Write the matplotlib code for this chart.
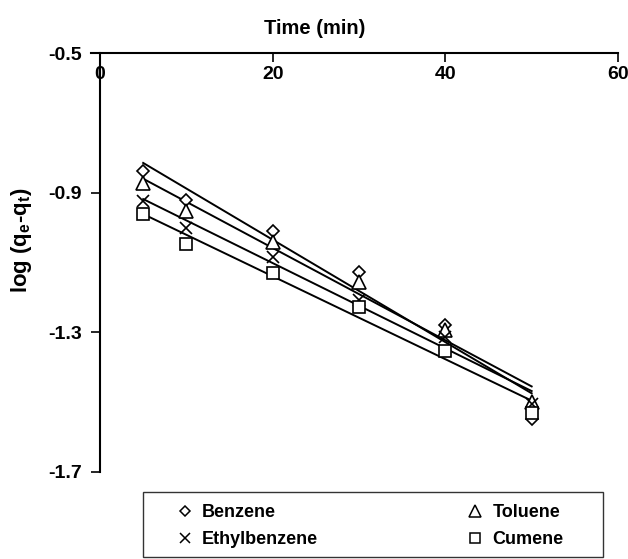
import matplotlib
matplotlib.use("Agg")
import matplotlib.pyplot as plt
import numpy as np
from matplotlib.patches import Rectangle
from matplotlib.lines import Line2D

plt.rcParams['font.family'] = ['Liberation Sans', 'DejaVu Sans']
plt.rcParams['font.weight'] = 'bold'
plt.rcParams['mathtext.fontset'] = 'custom'
plt.rcParams['mathtext.rm'] = 'Liberation Sans:bold'
plt.rcParams['mathtext.it'] = 'Liberation Sans:bold'
plt.rcParams['mathtext.bf'] = 'Liberation Sans:bold'

# ---- data ----
time = [5, 10, 20, 30, 40, 50]
benzene = [-0.837, -0.921, -1.010, -1.126, -1.279, -1.549]
toluene = [-0.871, -0.951, -1.040, -1.157, -1.294, -1.500]
ethylbenzene = [-0.923, -1.002, -1.085, -1.208, -1.315, -1.505]
cumene = [-0.962, -1.047, -1.131, -1.228, -1.353, -1.532]
series_names = ["Benzene", "Toluene", "Ethylbenzene", "Cumene"]
xticks = [0, 20, 40, 60]
yticks = [-0.5, -0.9, -1.3, -1.7]

W, H = 628, 559
fig = plt.figure(figsize=(W / 100, H / 100), dpi=100)
ax = fig.add_axes([90.7 / W, 1 - 471.7 / H, 527.3 / W, 418.4 / H])

series = [benzene, toluene, ethylbenzene, cumene]
markers = ['D', '^', 'x', 's']
msizes = [6.5, 9.5, 9, 8.5]

for ys, mk, ms in zip(series, markers, msizes):
    x = np.array(time, dtype=float)
    y = np.array(ys)
    k, b = np.polyfit(x, y, 1)
    ax.plot([x[0], x[-1]], [k * x[0] + b, k * x[-1] + b], color='black', lw=1.4, zorder=2)
    ax.plot(x, y, linestyle='none', marker=mk, ms=ms, mec='black',
            mfc='white' if mk != 'x' else 'black', mew=1.2, zorder=3)

ax.set_xlim(-1.077, 60)
ax.set_ylim(-1.7, -0.5)
ax.spines['top'].set_visible(False)
ax.spines['right'].set_visible(False)
ax.spines['bottom'].set_position(('data', -0.5))
ax.spines['left'].set_position(('data', 0))
for s in ('bottom', 'left'):
    ax.spines[s].set_linewidth(1.5)
ax.set_xticks(xticks)
ax.set_xticklabels([str(v) for v in xticks])
ax.set_yticks(yticks)
ax.set_yticklabels([f"{v:.1f}" for v in yticks])
ax.tick_params(axis='x', direction='out', length=6.5, width=1.2, pad=3, labelsize=14)
ax.tick_params(axis='y', direction='out', length=6.5, width=1.2, pad=6.5, labelsize=14)

fig.text(314.6 / W, 1 - 28 / H, "Time (min)", ha='center', va='center', fontsize=14.5, fontweight='bold')
fig.text(22 / W, 1 - 240 / H, r'log (q$_\mathrm{e}$-q$_\mathrm{t}$)', rotation=90,
         ha='center', va='center', fontsize=16, fontweight='bold')

# legend frame
fig.add_artist(Rectangle((143.3 / W, 1 - 557 / H), (602.7 - 143.3) / W, (557 - 491.7) / H,
                         transform=fig.transFigure, fill=False, edgecolor='#333333', lw=1.0))

handles = [Line2D([], [], linestyle='none', marker=m, ms=s * 0.85, mec='black',
                  mfc='white' if m != 'x' else 'black', mew=1.1) for m, s in zip(markers, msizes)]
order = [0, 2, 1, 3]
leg = fig.legend([handles[i] for i in order], [series_names[i] for i in order], ncol=2,
                 mode='expand', loc='center', frameon=False, borderpad=0,
                 bbox_to_anchor=(168.8 / W, 1 - 526.2 / H - 0.02, (572.7 - 168.8) / W, 0.04),
                 bbox_transform=fig.transFigure, fontsize=13, handlelength=0.8,
                 handletextpad=0.55, labelspacing=0.55, columnspacing=1.0)

fig.savefig("out.png", dpi=100)
